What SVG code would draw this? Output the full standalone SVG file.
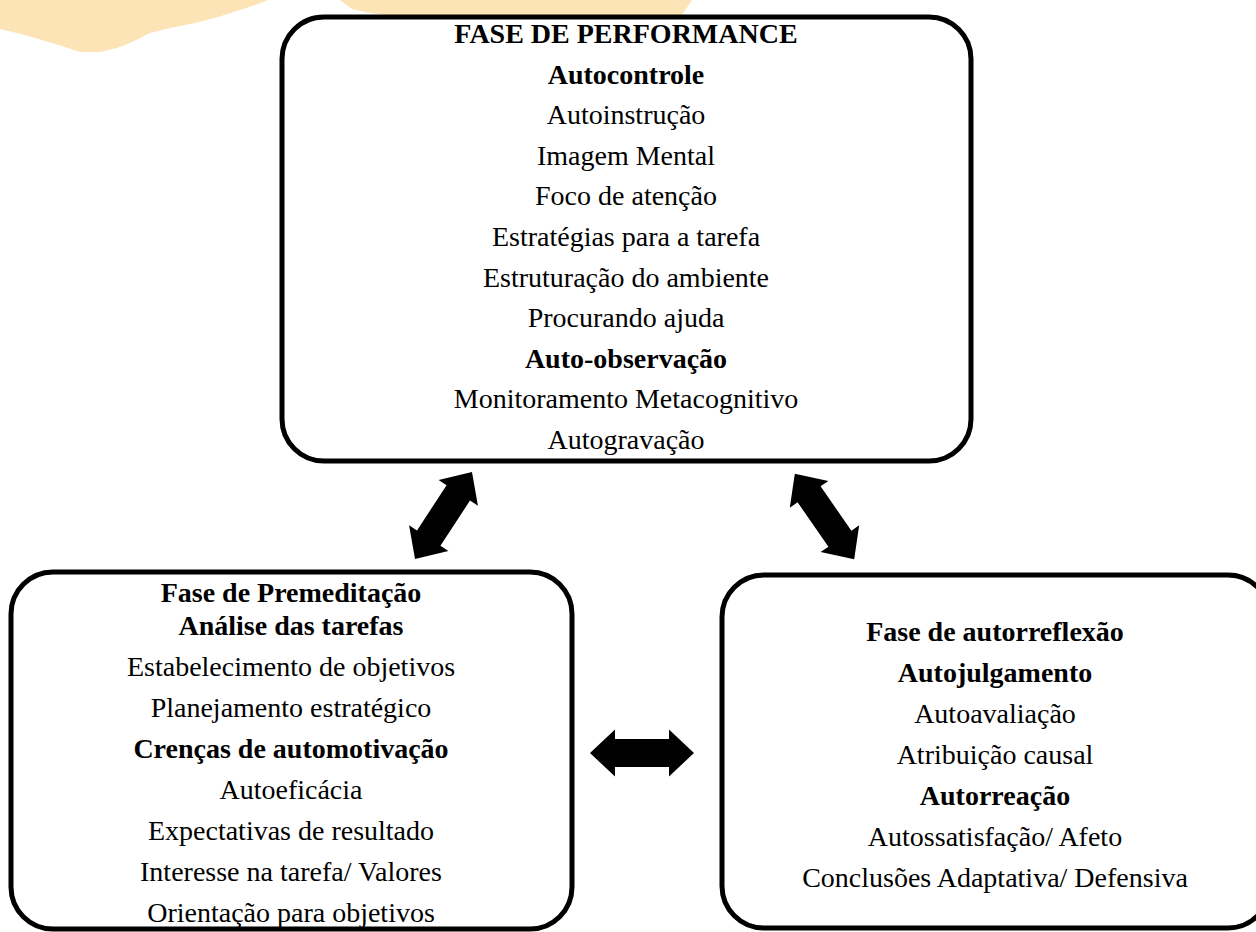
<svg xmlns="http://www.w3.org/2000/svg" width="1256" height="932" viewBox="0 0 1256 932">
<style>
  .box { fill: #ffffff; stroke: #000000; stroke-width: 5; }
  .t { font-family: "Liberation Serif", "Times New Roman", serif; font-size: 28px; fill: #000000; text-anchor: middle; }
  .b { font-weight: bold; }
  .arrow { fill: #000000; }
  .bg { fill: #FCE4B6; }
</style>
<defs>
  <path id="dbl" d="M -52 0 L -27 -23.5 L -27 -14 L 27 -14 L 27 -23.5 L 52 0 L 27 23.5 L 27 14 L -27 14 L -27 23.5 Z"/>
</defs>
<rect width="1256" height="932" fill="#ffffff"/>
<g id="background">
  <path class="bg" d="M 0 0 L 268 0 L 258 4 L 240 10 L 218 17 L 195 23 L 170 28 L 150 33 L 130 43 L 117 48 L 100 52 L 80 52 L 62 46 L 45 41 L 25 35 L 0 29 Z"/>
  <path class="bg" d="M 340 0 L 692 0 L 680 18 L 420 22 L 392 16 L 370 13 L 352 9 Z"/>
</g>
<g id="node-performance">
  <rect class="box" x="282" y="17" width="689" height="444" rx="42" ry="42"/>
  <text class="t b" x="626" y="43">FASE DE PERFORMANCE</text>
  <text class="t b" x="626" y="83.6">Autocontrole</text>
  <text class="t" x="626" y="124.2">Autoinstrução</text>
  <text class="t" x="626" y="164.8">Imagem Mental</text>
  <text class="t" x="626" y="205.4">Foco de atenção</text>
  <text class="t" x="626" y="246">Estratégias para a tarefa</text>
  <text class="t" x="626" y="286.6">Estruturação do ambiente</text>
  <text class="t" x="626" y="327.2">Procurando ajuda</text>
  <text class="t b" x="626" y="367.8">Auto-observação</text>
  <text class="t" x="626" y="408.4">Monitoramento Metacognitivo</text>
  <text class="t" x="626" y="449">Autogravação</text>
</g>
<g id="node-premeditacao">
  <rect class="box" x="11" y="572" width="561" height="357" rx="42" ry="42"/>
  <text class="t b" x="291" y="602">Fase de Premeditação</text>
  <text class="t b" x="291" y="635">Análise das tarefas</text>
  <text class="t" x="291" y="676">Estabelecimento de objetivos</text>
  <text class="t" x="291" y="717">Planejamento estratégico</text>
  <text class="t b" x="291" y="758">Crenças de automotivação</text>
  <text class="t" x="291" y="799">Autoeficácia</text>
  <text class="t" x="291" y="840">Expectativas de resultado</text>
  <text class="t" x="291" y="881">Interesse na tarefa/ Valores</text>
  <text class="t" x="291" y="922">Orientação para objetivos</text>
</g>
<g id="node-autorreflexao">
  <rect class="box" x="722" y="575" width="548" height="353" rx="42" ry="42"/>
  <text class="t b" x="995" y="641">Fase de autorreflexão</text>
  <text class="t b" x="995" y="682">Autojulgamento</text>
  <text class="t" x="995" y="723">Autoavaliação</text>
  <text class="t" x="995" y="764">Atribuição causal</text>
  <text class="t b" x="995" y="805">Autorreação</text>
  <text class="t" x="995" y="846">Autossatisfação/ Afeto</text>
  <text class="t" x="995" y="887">Conclusões Adaptativa/ Defensiva</text>
</g>
<g id="connectors">
  <use href="#dbl" class="arrow" transform="translate(443.5 515.5) rotate(-56.8)"/>
  <use href="#dbl" class="arrow" transform="translate(824.5 516.5) rotate(55.2)"/>
  <use href="#dbl" class="arrow" transform="translate(642 753)"/>
</g>
</svg>
